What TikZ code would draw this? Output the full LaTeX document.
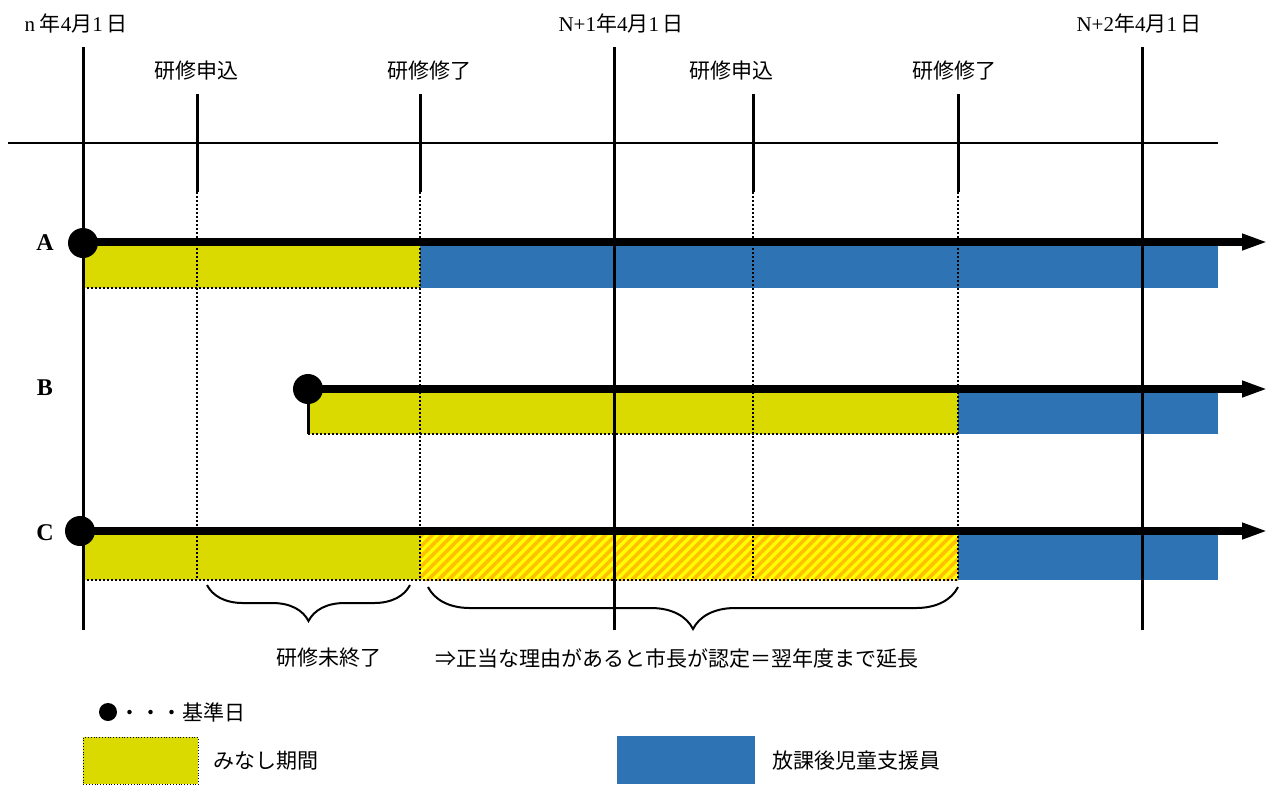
\documentclass[tikz,border=0pt]{standalone}
\usepackage{fontspec}
\setmainfont{Liberation Serif}
\newfontfamily\jp{Noto Sans CJK JP}
\usetikzlibrary{arrows.meta,positioning,patterns.meta,decorations.pathreplacing}
\definecolor{minashi}{RGB}{218,218,0}
\definecolor{shienin}{RGB}{46,116,181}
\definecolor{hatchY}{RGB}{255,255,0}
\definecolor{hatchO}{RGB}{255,192,0}

\begin{document}
\begin{tikzpicture}[x=0.5pt, y=-0.5pt, >=Latex, font=\jp\fontsize{10.5}{12}\selectfont]
\tikzstyle{yearline}=[line width=1.5pt]
\tikzstyle{guide}=[line width=1pt, densely dotted]
\tikzstyle{life}=[line width=4pt, -{Triangle[length=13pt,width=7.5pt]}]
\tikzstyle{refdot}=[circle, fill, inner sep=0pt, minimum size=15pt]
\tikzstyle{rowlab}=[font=\rmfamily\bfseries\fontsize{12}{14}\selectfont]
\tikzstyle{minashibar}=[fill=minashi]
\tikzstyle{shieninbar}=[fill=shienin]
\tikzstyle{enchobar}=[pattern={Lines[angle=45,distance=3.6pt,line width=1.8pt]}, pattern color=hatchO]
\tikzstyle{brc}=[decorate, line width=1pt]
\useasboundingbox (0,0) rectangle (1288,784);

% bars
\fill[minashibar] (83,246) rectangle (420,288);
\fill[shieninbar] (420,246) rectangle (1218,288);
\fill[minashibar] (308,393) rectangle (958,434);
\fill[shieninbar] (958,393) rectangle (1218,434);
\fill[minashibar] (83,535) rectangle (420,580);
\fill[hatchY] (420,535) rectangle (958,580);
\fill[enchobar] (420,535) rectangle (958,580);
\fill[shieninbar] (958,535) rectangle (1218,580);
\draw[guide] (83,288) -- (420,288);
\draw[guide] (308,434) -- (958,434);
\draw[guide] (83,580) -- (958,580);

% axis and year lines
\draw[line width=1.4pt] (8,143) -- (1218,143);
\foreach \x in {83,614,1142}
  \draw[yearline] (\x,47) -- (\x,630);
\foreach \x in {197,420,753,958} {
  \draw[yearline] (\x,94) -- (\x,192);
  \draw[guide] (\x,192) -- (\x,580);
}

% labels
\node (d0) at (76,23) {{\rmfamily n} 年{\rmfamily 4}月{\rmfamily 1}\,日};
\node (d1) at (621,23) {{\rmfamily N+1}年{\rmfamily 4}月{\rmfamily 1}\,日};
\node (d2) at (1139,23) {{\rmfamily N+2}年{\rmfamily 4}月{\rmfamily 1}\,日};
\node (app1) at (196,71) {研修申込};
\node (fin1) at (429,71) {研修修了};
\node (app2) at (731,71) {研修申込};
\node (fin2) at (954,71) {研修修了};

% rows
\node[rowlab] (labA) at (45,243) {A};
\node[rowlab] (labB) at (45,388) {B};
\node[rowlab] (labC) at (45,533) {C};
\node[refdot] (dotA) at (83,243) {};
\node[refdot] (dotB) at (308,389) {};
\node[refdot] (dotC) at (80,531) {};
\coordinate (endA) at (1268,242);
\coordinate (endB) at (1268,389);
\coordinate (endC) at (1268,531);
\draw[life] (dotA.center |- endA) -- (endA);
\draw[life] (dotB.center) -- (endB);
\draw[life] (dotC.center) -- (endC);
\draw[yearline] (dotB.center) -- (308,434);

% braces
\draw[brc, decoration={brace, mirror, amplitude=18pt}] (207,585) -- (410,585);
\draw[brc, decoration={brace, mirror, amplitude=21pt}] (428,587) -- (958,587);
\node (mishu) at (329,658) {研修未終了};
\node[anchor=west, inner sep=0pt] (encho) at (435,658) {⇒正当な理由があると市長が認定＝翌年度まで延長};

% legend
\node[refdot, minimum size=9pt] (keydot) at (108,712) {};
\node[anchor=west, inner sep=0pt] (keydottxt) at (119,712) {・・・基準日};
\node[draw, densely dotted, fill=minashi, minimum width=57.5pt, minimum height=23.5pt, inner sep=0pt, anchor=north west] (keyminashi) at (83,737) {};
\node[right=7pt of keyminashi, inner sep=0pt] (keyminashitxt) {みなし期間};
\node[fill=shienin, minimum width=69pt, minimum height=24pt, inner sep=0pt, anchor=north west] (keyshien) at (617,736) {};
\node[right=8pt of keyshien, inner sep=0pt] (keyshientxt) {放課後児童支援員};
\end{tikzpicture}
\end{document}
